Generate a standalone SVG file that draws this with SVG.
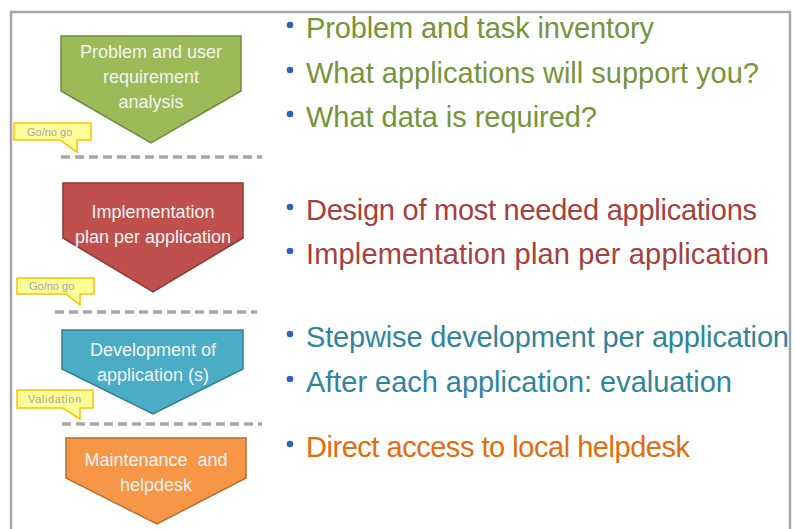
<svg xmlns="http://www.w3.org/2000/svg" width="794" height="529" viewBox="0 0 794 529">
<style>
.frame{fill:none;stroke:#A6A6A6;stroke-width:2.5}
.st{stroke-width:1.5}
.nt{font-family:"Liberation Sans",Arial,sans-serif;font-size:18px;fill:#F4F4F4;text-anchor:middle}
.bt{font-family:"Liberation Sans",Arial,sans-serif;font-size:29px}
.bul{fill:#2F63B8}
.call{fill:#FFFF99;stroke:#FFC000;stroke-width:1.5;stroke-linejoin:miter}
.ct{font-family:"Liberation Sans",Arial,sans-serif;font-size:11px;fill:#A6A6A6}
.sep{stroke:#A6A6A6;stroke-width:3.5;stroke-dasharray:9 5;fill:none}
.g{fill:#77933C}.r{fill:#A5403E}.b{fill:#31849B}.o{fill:#E46C0A}
</style>
<rect width="794" height="529" fill="#FFFFFF"/>
<rect class="frame" x="11" y="12" width="779" height="540"/>

<g id="separators">
<line class="sep" x1="61" y1="157" x2="262" y2="157"/>
<line class="sep" x1="55" y1="312" x2="257" y2="312"/>
<line class="sep" x1="62" y1="424" x2="262" y2="424"/>
</g>

<g id="step1">
<polygon class="st" points="61,36 241,36 241,91 151,143 61,91" fill="#9BBB59" stroke="#71893F"/>
<text class="nt" x="151" y="58">Problem and user</text>
<text class="nt" x="151" y="83">requirement</text>
<text class="nt" x="151" y="108">analysis</text>
</g>

<g id="step2">
<polygon class="st" points="63,183 243,183 243,238 153,292 63,238" fill="#C0504D" stroke="#8C3836"/>
<text class="nt" x="153" y="218">Implementation</text>
<text class="nt" x="153" y="243">plan per application</text>
</g>

<g id="step3">
<polygon class="st" points="62,330 243,330 243,369 153,414 62,369" fill="#4BACC6" stroke="#357D91"/>
<text class="nt" x="153" y="356">Development of</text>
<text class="nt" x="153" y="381">application (s)</text>
</g>

<g id="step4">
<polygon class="st" points="66,438 246,438 246,478 157,524 66,478" fill="#F79646" stroke="#B66D31"/>
<text class="nt" x="156" y="466" xml:space="preserve">Maintenance  and</text>
<text class="nt" x="156" y="491">helpdesk</text>
</g>

<g id="callout1">
<path class="call" d="M14,123 H91 V140 H77 V152 L60,140 H14 Z"/>
<text class="ct" x="27" y="136">Go/no go</text>
</g>
<g id="callout2">
<path class="call" d="M17,278 H94 V294 H80 V305 L66,294 H17 Z"/>
<text class="ct" x="29" y="290">Go/no go</text>
</g>
<g id="callout3">
<path class="call" d="M17,390 H93 V408 H80 V419 L63,408 H17 Z"/>
<text class="ct" x="28" y="403" textLength="53">Validation</text>
</g>

<g id="bullets1">
<circle class="bul" cx="290" cy="25" r="3.3"/>
<circle class="bul" cx="290" cy="70" r="3.3"/>
<circle class="bul" cx="290" cy="114" r="3.3"/>
<text class="bt g" x="306" y="38" textLength="348">Problem and task inventory</text>
<text class="bt g" x="306" y="83" textLength="453">What applications will support you?</text>
<text class="bt g" x="306" y="127" textLength="291">What data is required?</text>
</g>

<g id="bullets2">
<circle class="bul" cx="290" cy="207" r="3.3"/>
<circle class="bul" cx="290" cy="251" r="3.3"/>
<text class="bt r" x="306" y="220" textLength="451">Design of most needed applications</text>
<text class="bt r" x="306" y="264" textLength="463">Implementation plan per application</text>
</g>

<g id="bullets3">
<circle class="bul" cx="290" cy="334" r="3.3"/>
<circle class="bul" cx="290" cy="379" r="3.3"/>
<text class="bt b" x="306" y="347" textLength="483">Stepwise development per application</text>
<text class="bt b" x="306" y="392" textLength="426">After each application: evaluation</text>
</g>

<g id="bullets4">
<circle class="bul" cx="290" cy="444" r="3.3"/>
<text class="bt o" x="306" y="457" textLength="384">Direct access to local helpdesk</text>
</g>
</svg>
